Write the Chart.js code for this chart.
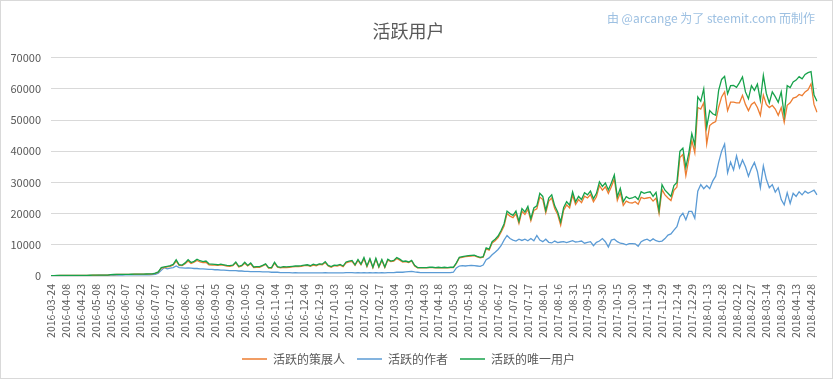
<!DOCTYPE html>
<html>
<head>
<meta charset="utf-8">
<script src="https://cdn.jsdelivr.net/npm/chart.js@4.4.1/dist/chart.umd.min.js"></script>
<style>
  html, body { margin: 0; padding: 0; background: #fff; }
  #wrap { position: relative; width: 833px; height: 379px; }
  #frame { position: absolute; left: 0; top: 0; width: 831px; height: 377px; border: 1px solid #d9d9d9; pointer-events: none; }
  #credit { position: absolute; right: 18px; top: 9px; font: 12px "Noto Sans CJK SC", sans-serif; color: #9dc0e2; white-space: nowrap; }
</style>
</head>
<body>
<div id="wrap">
  <canvas id="activeChart" width="833" height="379"></canvas>
  <div id="credit">由 @arcange 为了 steemit.com 而制作</div>
  <div id="frame"></div>
</div>
<script>
// one point every 3 days starting 2016-03-24, a tick label every 15 days
var startDate = '2016-03-24';
var stepDays = 3;
var labelEvery = 5;

var seriesNames = ['活跃的策展人', '活跃的作者', '活跃的唯一用户'];

var curators = [
  110,130,150,160,170, 180,190,200,190,200, 210,220,210,230,240, 240,250,260,250,270,
  430,460,480,500,490, 510,530,540,560,570, 580,600,620,630,650, 850,1200,2500,2700,2900,
  3100,3500,4800,3400,3300, 3900,4800,4000,4400,5000, 4500,4300,4400,3600,3500, 3500,3400,3600,3400,3200,
  3100,3300,4200,2900,3200, 4100,3200,3900,2700,2800, 2800,3200,3700,2500,2500, 4100,2800,2600,2800,2700,
  2800,2900,3000,3000,3100, 3300,3400,3100,3500,3300, 3700,3600,4300,3200,2800, 3300,3200,3500,3000,4200,
  4500,4700,3400,5000,3600, 5500,3000,5300,2600,5400, 2800,5000,2700,5100,4600, 4800,5600,5100,4500,4600,
  4300,4800,3200,2600,2600, 2600,2600,2700,2700,2600, 2700,2600,2700,2600,2700, 2700,4000,5800,6000,6200,
  6300,6400,6500,6100,5800, 6000,8700,8300,10600,11300, 12300,14000,16000,20000,19200, 18700,20000,16800,20700,19700,
  21400,17700,21000,21500,25300, 24500,20200,24000,25000,21600, 19700,16300,21100,22800,21800, 25900,22900,24500,23500,25600,
  25000,26100,23800,25400,29000, 27500,28600,26500,28600,31100, 24200,26700,22600,24000,23500, 23400,23800,23000,25200,24800,
  25000,25200,24000,25000,20000, 27700,26000,25000,24200,27500, 28500,38000,39000,32200,37500, 43400,39500,54000,53500,55500,
  42300,48200,49000,49500,54100, 57400,59000,53000,55700,55700, 55500,55500,57900,55000,53000, 55000,55700,54000,51500,58000,
  55000,54000,54700,53500,51500, 54000,49300,54700,55500,57000, 57300,58200,57800,59000,59700, 61600,55000,52500
];

var authors = [
  80,90,100,110,110, 120,120,130,120,130, 130,140,130,150,150, 150,160,160,160,170,
  280,300,310,320,320, 330,340,350,360,360, 370,380,390,400,420, 550,900,1800,2700,2300,
  2500,2700,3200,2700,2600, 2500,2600,2500,2400,2400, 2300,2300,2200,2100,2100, 2000,2000,1900,1900,1800,
  1700,1700,1700,1600,1600, 1500,1500,1400,1400,1400, 1400,1300,1300,1300,1200, 1200,1200,1100,1100,1100,
  1100,1000,1100,1000,1000, 1000,1000,1000,1000,1000, 1000,1000,1100,1000,1000, 1000,1000,1000,1000,1100,
  1100,1100,1000,1100,1000, 1100,1000,1100,1000,1100, 1000,1100,1000,1100,1100, 1100,1200,1200,1200,1300,
  1400,1500,1300,1200,1100, 1100,1100,1100,1100,1100, 1100,1100,1100,1100,1100, 1200,2600,3200,3300,3200,
  3300,3400,3300,3200,3100, 3500,5200,5800,6800,7600, 8500,9700,11500,13000,12000, 11500,11200,11800,11400,11800,
  11300,12000,11300,13000,11500, 11000,11800,10800,10600,11200, 10700,10900,11000,10700,11000, 11300,10900,11000,11200,10500,
  10800,11000,9700,10800,11200, 12000,11000,9300,11500,11800, 11000,10500,10400,10000,10400, 10400,10300,9500,11000,11500,
  11800,11200,11900,11300,11000, 11200,12000,13100,13500,14700, 15800,19000,20100,18000,20700, 20700,18500,27200,29300,28000,
  29000,28000,30400,32000,36400, 40000,42300,33100,36500,34000, 38500,34700,37200,35000,32000, 34500,36400,33500,28300,35300,
  31000,28300,29300,26900,28300, 24500,22800,26700,23300,26500, 25500,27000,26000,27200,26500, 27000,27500,26000
];

var uniqueUsers = [
  120,140,160,170,180, 190,200,210,200,210, 220,230,220,240,250, 250,260,270,260,280,
  450,480,500,520,510, 530,550,560,580,590, 600,620,640,650,680, 900,1300,2700,2900,3100,
  3300,3700,5200,3600,3500, 4200,5200,4300,4700,5400, 4900,4600,4800,3900,3800, 3700,3600,3800,3600,3400,
  3300,3500,4500,3100,3400, 4400,3400,4200,2900,3000, 3000,3400,3900,2700,2700, 4400,3000,2800,3000,2900,
  3000,3100,3200,3200,3300, 3500,3600,3300,3800,3500, 3900,3800,4600,3400,3000, 3500,3400,3700,3200,4500,
  4800,5000,3600,5300,3800, 5900,3200,5600,2800,5700, 3000,5300,2900,5400,4800, 5000,5900,5400,4700,4800,
  4500,5000,3400,2700,2700, 2700,2700,2800,2800,2700, 2800,2700,2800,2700,2800, 2800,4200,6000,6200,6400,
  6500,6600,6700,6300,6000, 6200,9000,8600,11000,11800, 12800,14600,16700,20800,20000, 19400,20800,17500,21600,20500,
  22300,18400,21800,22500,26500, 25500,21000,25000,26000,22500, 20500,17300,22000,23800,22700, 27000,23800,25500,24500,26700,
  26000,27200,24800,26500,30200, 28700,29800,27600,29800,32400, 25400,28100,23800,25400,24800, 25000,25500,24500,27000,26500,
  26800,27000,25500,26800,21000, 29300,27500,26500,25500,29000, 30000,40000,41000,34800,39500, 45600,42000,57400,56000,60000,
  47700,53000,52000,51500,59500, 63000,64000,58400,61000,61100, 60500,62000,63800,59000,56800, 61000,59500,61500,56300,64300,
  58500,55500,59000,57500,55700, 59000,51500,61000,60400,62200, 62800,63900,63200,64600,65200, 65500,58000,56000
];

var yMin = 0, yMax = 70000, yStep = 10000;

// category labels, one per point
var dates = [];
var t0 = Date.parse(startDate + 'T00:00:00Z');
for (var i = 0; i < uniqueUsers.length; i++) {
  dates.push(new Date(t0 + i * stepDays * 86400000).toISOString().slice(0, 10));
}

var fontFamily = '"Noto Sans CJK SC", "Noto Sans", sans-serif';
Chart.defaults.font.family = fontFamily;
Chart.defaults.color = '#595959';

var ctx = document.getElementById('activeChart').getContext('2d');

new Chart(ctx, {
  type: 'line',
  data: {
    labels: dates,
    datasets: [
      { label: seriesNames[0], data: curators, borderColor: '#ed7d31', backgroundColor: '#ed7d31', order: 1 },
      { label: seriesNames[1], data: authors, borderColor: '#5b9bd5', backgroundColor: '#5b9bd5', order: 2 },
      { label: seriesNames[2], data: uniqueUsers, borderColor: '#17a24b', backgroundColor: '#17a24b', order: 0 }
    ]
  },
  options: {
    responsive: false,
    animation: false,
    layout: { padding: { left: 0, right: 16, top: 0, bottom: 4 } },
    elements: {
      line: { borderWidth: 1.3, tension: 0 },
      point: { radius: 0, hoverRadius: 0 }
    },
    scales: {
      x: {
        offset: false,
        grid: { display: false, drawTicks: false },
        border: { display: false },
        ticks: {
          autoSkip: false,
          maxRotation: 90,
          minRotation: 90,
          padding: 8,
          font: { size: 10.5 },
          color: '#595959',
          callback: function (v, i) { return i % labelEvery === 0 ? dates[i] : null; }
        },
        afterFit: function (s) { s.height = 65; }
      },
      y: {
        min: yMin,
        max: yMax,
        grid: { color: '#d9d9d9', lineWidth: 1, drawTicks: false },
        border: { display: false },
        ticks: {
          stepSize: yStep,
          padding: 10,
          font: { size: 11 },
          color: '#595959',
          callback: function (v) { return String(v); }
        },
        afterFit: function (s) { s.width = 51; }
      }
    },
    plugins: {
      title: {
        display: true,
        text: '活跃用户',
        color: '#595959',
        font: { size: 18, weight: 'normal' },
        padding: { top: 20, bottom: 16 }
      },
      legend: {
        position: 'bottom',
        labels: {
          boxWidth: 25,
          boxHeight: 1.5,
          padding: 12,
          font: { size: 12 },
          color: '#595959',
          sort: function (a, b) { return a.datasetIndex - b.datasetIndex; },
          generateLabels: function (chart) {
            return Chart.defaults.plugins.legend.labels.generateLabels(chart).map(function (l) {
              l.lineWidth = 0;
              return l;
            });
          }
        }
      },
      tooltip: { enabled: false }
    }
  }
});
</script>
</body>
</html>
